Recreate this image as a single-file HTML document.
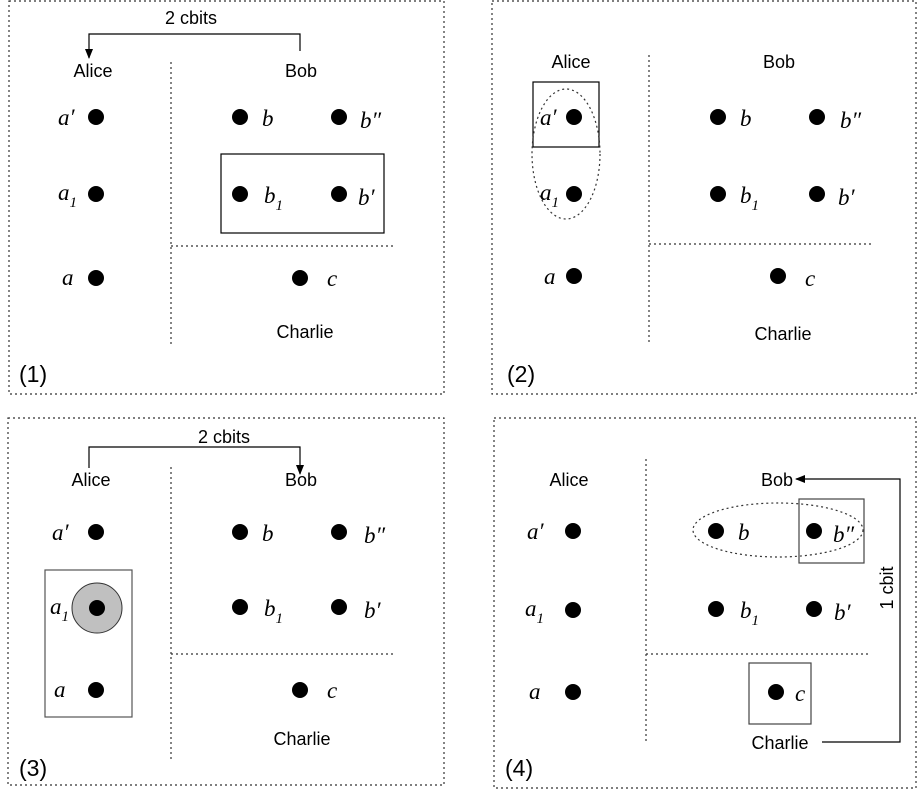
<!DOCTYPE html>
<html><head><meta charset="utf-8"><style>
html,body{margin:0;padding:0;background:#fff;}
svg{display:block;}
.s{font-family:"Liberation Sans",sans-serif;font-size:18px;text-anchor:middle;}
.m{font-family:"Liberation Serif",serif;font-style:italic;font-size:23px;}
.sub{font-size:15px;}
.n{font-family:"Liberation Sans",sans-serif;font-size:23px;}
.d{stroke:#333;stroke-width:1.2;stroke-dasharray:2,3;fill:none;}
.b{stroke:#000;stroke-width:1.2;fill:none;}
</style></head><body>
<svg width="917" height="789" viewBox="0 0 917 789" xmlns="http://www.w3.org/2000/svg">
<defs><marker id="ar" markerWidth="10" markerHeight="10" refX="9" refY="4" orient="auto" markerUnits="userSpaceOnUse"><path d="M0,0 L10,4 L0,8 Z" fill="#000"/></marker></defs>

<!-- Panel 1 -->
<rect x="9" y="1" width="435" height="393" class="d"/>
<text x="191" y="24" class="s">2 cbits</text>
<path d="M300,51 V34 H89 V58" class="b" marker-end="url(#ar)"/>
<text x="93" y="77" class="s">Alice</text>
<text x="301" y="77" class="s">Bob</text>
<line x1="171" y1="62" x2="171" y2="347" class="d"/>
<line x1="171" y1="246" x2="395" y2="246" class="d"/>
<circle cx="96" cy="117" r="8"/><text x="58" y="125" class="m">a′</text>
<circle cx="96" cy="194" r="8"/><text x="58" y="200" class="m">a<tspan class="sub" dy="7">1</tspan></text>
<circle cx="96" cy="278" r="8"/><text x="62" y="285" class="m">a</text>
<circle cx="240" cy="117" r="8"/><text x="262" y="126" class="m">b</text>
<circle cx="339" cy="117" r="8"/><text x="360" y="128" class="m">b″</text>
<rect x="221" y="154" width="163" height="79" class="b"/>
<circle cx="240" cy="194" r="8"/><text x="264" y="203" class="m">b<tspan class="sub" dy="7">1</tspan></text>
<circle cx="339" cy="194" r="8"/><text x="358" y="205" class="m">b′</text>
<circle cx="300" cy="278" r="8"/><text x="327" y="286" class="m">c</text>
<text x="305" y="338" class="s">Charlie</text>
<text x="19" y="382" class="n">(1)</text>

<!-- Panel 2 -->
<rect x="492" y="1" width="424" height="393" class="d"/>
<text x="571" y="68" class="s">Alice</text>
<text x="779" y="68" class="s">Bob</text>
<line x1="649" y1="55" x2="649" y2="345" class="d"/>
<line x1="649" y1="244" x2="873" y2="244" class="d"/>
<rect x="533" y="82" width="66" height="65" class="b"/>
<ellipse cx="566" cy="154" rx="34" ry="65" class="d"/>
<circle cx="574" cy="117" r="8"/><text x="540" y="125" class="m">a′</text>
<circle cx="574" cy="194" r="8"/><text x="540" y="200" class="m">a<tspan class="sub" dy="7">1</tspan></text>
<circle cx="574" cy="276" r="8"/><text x="544" y="284" class="m">a</text>
<circle cx="718" cy="117" r="8"/><text x="740" y="126" class="m">b</text>
<circle cx="817" cy="117" r="8"/><text x="840" y="128" class="m">b″</text>
<circle cx="718" cy="194" r="8"/><text x="740" y="203" class="m">b<tspan class="sub" dy="7">1</tspan></text>
<circle cx="817" cy="194" r="8"/><text x="838" y="205" class="m">b′</text>
<circle cx="778" cy="276" r="8"/><text x="805" y="286" class="m">c</text>
<text x="783" y="340" class="s">Charlie</text>
<text x="507" y="382" class="n">(2)</text>

<!-- Panel 3 -->
<rect x="8" y="418" width="436" height="367" class="d"/>
<text x="224" y="443" class="s">2 cbits</text>
<path d="M89,468 V447 H300 V474" class="b" marker-end="url(#ar)"/>
<text x="91" y="486" class="s">Alice</text>
<text x="301" y="486" class="s">Bob</text>
<line x1="171" y1="467" x2="171" y2="760" class="d"/>
<line x1="171" y1="654" x2="395" y2="654" class="d"/>
<rect x="45" y="570" width="87" height="147" fill="none" stroke="#555" stroke-width="1.2"/>
<circle cx="97" cy="608" r="25" fill="#c0c0c0" stroke="#333" stroke-width="1"/>
<circle cx="96" cy="532" r="8"/><text x="52" y="540" class="m">a′</text>
<circle cx="97" cy="608" r="8"/><text x="50" y="614" class="m">a<tspan class="sub" dy="7">1</tspan></text>
<circle cx="96" cy="690" r="8"/><text x="54" y="697" class="m">a</text>
<circle cx="240" cy="532" r="8"/><text x="262" y="541" class="m">b</text>
<circle cx="339" cy="532" r="8"/><text x="364" y="543" class="m">b″</text>
<circle cx="240" cy="607" r="8"/><text x="264" y="616" class="m">b<tspan class="sub" dy="7">1</tspan></text>
<circle cx="339" cy="607" r="8"/><text x="364" y="618" class="m">b′</text>
<circle cx="300" cy="690" r="8"/><text x="327" y="698" class="m">c</text>
<text x="302" y="745" class="s">Charlie</text>
<text x="19" y="776" class="n">(3)</text>

<!-- Panel 4 -->
<rect x="494" y="418" width="422" height="370" class="d"/>
<text x="569" y="486" class="s">Alice</text>
<text x="777" y="486" class="s">Bob</text>
<path d="M822,742 H900 V479 H796" class="b" marker-end="url(#ar)"/>
<text x="0" y="0" class="s" transform="translate(893,588) rotate(-90)">1 cbit</text>
<line x1="646" y1="459" x2="646" y2="743" class="d"/>
<line x1="646" y1="654" x2="871" y2="654" class="d"/>
<ellipse cx="778" cy="530" rx="85" ry="27" class="d"/>
<rect x="799" y="499" width="65" height="64" fill="none" stroke="#444" stroke-width="1.2"/>
<rect x="749" y="663" width="62" height="61" fill="none" stroke="#444" stroke-width="1.2"/>
<circle cx="573" cy="531" r="8"/><text x="527" y="539" class="m">a′</text>
<circle cx="573" cy="610" r="8"/><text x="525" y="616" class="m">a<tspan class="sub" dy="7">1</tspan></text>
<circle cx="573" cy="692" r="8"/><text x="529" y="699" class="m">a</text>
<circle cx="716" cy="531" r="8"/><text x="738" y="540" class="m">b</text>
<circle cx="814" cy="531" r="8"/><text x="833" y="542" class="m">b″</text>
<circle cx="716" cy="609" r="8"/><text x="740" y="618" class="m">b<tspan class="sub" dy="7">1</tspan></text>
<circle cx="814" cy="609" r="8"/><text x="834" y="620" class="m">b′</text>
<circle cx="776" cy="692" r="8"/><text x="795" y="701" class="m">c</text>
<text x="780" y="749" class="s">Charlie</text>
<text x="505" y="776" class="n">(4)</text>
</svg>
</body></html>
